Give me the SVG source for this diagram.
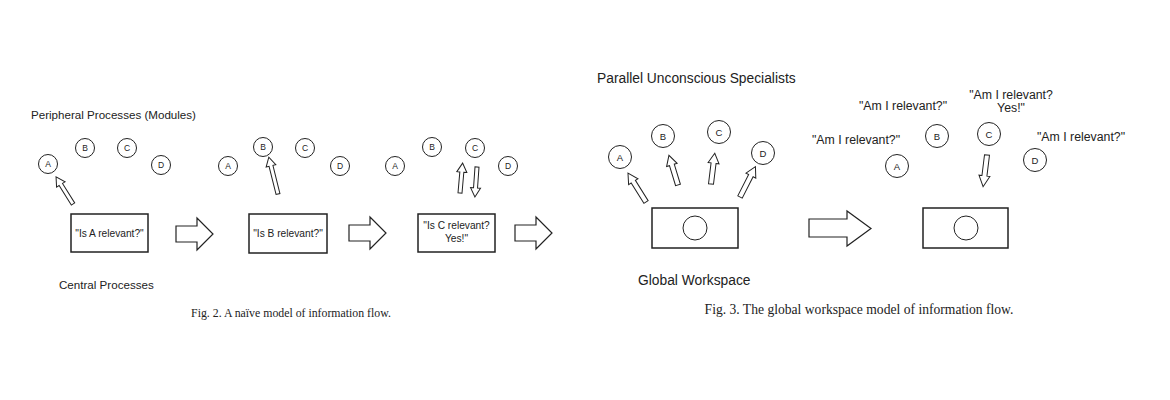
<svg xmlns="http://www.w3.org/2000/svg" width="1170" height="400" viewBox="0 0 1170 400">
<style>
.bg{fill:#fff}
.c{fill:#fff;stroke:#222;stroke-width:1}
.cl{font-family:"Liberation Sans",Arial,sans-serif;font-size:8.5px;fill:#222;text-anchor:middle}
.cr{font-family:"Liberation Sans",Arial,sans-serif;font-size:9.5px;fill:#222;text-anchor:middle}
.box{fill:#fff;stroke:#222;stroke-width:1.5}
.bt{font-family:"Liberation Sans",Arial,sans-serif;font-size:10.2px;fill:#222;text-anchor:middle}
.lbl{font-family:"Liberation Sans",Arial,sans-serif;font-size:11.6px;fill:#222}
.lbr{font-family:"Liberation Sans",Arial,sans-serif;font-size:13.8px;fill:#222}
.q{font-family:"Liberation Sans",Arial,sans-serif;font-size:12.3px;fill:#222;text-anchor:middle}
.cap{font-family:"Liberation Serif","Times New Roman",serif;fill:#222;text-anchor:middle}
.ar{fill:#fff;stroke:#222;stroke-width:1}
.big{fill:#fff;stroke:#222;stroke-width:1.2}
</style>
<rect class="bg" x="0" y="0" width="1170" height="400"/>

<!-- Fig. 2 -->
<text class="lbl" x="31" y="119">Peripheral Processes (Modules)</text>
<text class="lbl" x="59" y="289">Central Processes</text>
<text class="cap" x="291" y="317" font-size="11.8">Fig. 2. A naïve model of information flow.</text>

<g id="p1-A"><circle class="c" cx="48" cy="164" r="9.5"/><text class="cl" x="48" y="167">A</text></g>
<g id="p1-B"><circle class="c" cx="85" cy="148" r="9.5"/><text class="cl" x="85" y="151">B</text></g>
<g id="p1-C"><circle class="c" cx="127" cy="148" r="9.5"/><text class="cl" x="127" y="151">C</text></g>
<g id="p1-D"><circle class="c" cx="161" cy="165" r="9.5"/><text class="cl" x="161" y="168">D</text></g>
<g id="p1-box"><rect class="box" x="71" y="214" width="77" height="38"/><text class="bt" x="109.5" y="237">"Is A relevant?"</text></g>

<g id="p2-A"><circle class="c" cx="228" cy="166" r="9.5"/><text class="cl" x="228" y="169">A</text></g>
<g id="p2-B"><circle class="c" cx="263" cy="147" r="9.5"/><text class="cl" x="263" y="150">B</text></g>
<g id="p2-C"><circle class="c" cx="305" cy="148" r="9.5"/><text class="cl" x="305" y="151">C</text></g>
<g id="p2-D"><circle class="c" cx="340" cy="166" r="9.5"/><text class="cl" x="340" y="169">D</text></g>
<g id="p2-box"><rect class="box" x="249" y="214" width="78" height="39"/><text class="bt" x="288" y="237">"Is B relevant?"</text></g>

<g id="p3-A"><circle class="c" cx="395" cy="166" r="9.5"/><text class="cl" x="395" y="169">A</text></g>
<g id="p3-B"><circle class="c" cx="432" cy="147" r="9.5"/><text class="cl" x="432" y="150">B</text></g>
<g id="p3-C"><circle class="c" cx="475" cy="148" r="9.5"/><text class="cl" x="475" y="151">C</text></g>
<g id="p3-D"><circle class="c" cx="508" cy="166" r="9.5"/><text class="cl" x="508" y="169">D</text></g>
<g id="p3-box"><rect class="box" x="418" y="214" width="77" height="38"/><text class="bt" x="456.5" y="229">"Is C relevant?</text><text class="bt" x="456.5" y="242">Yes!"</text></g>

<!-- Fig. 3 -->
<text class="lbr" x="597" y="83">Parallel Unconscious Specialists</text>
<text class="lbr" x="638" y="285">Global Workspace</text>
<text class="cap" x="859" y="314" font-size="13.6">Fig. 3. The global workspace model of information flow.</text>

<g id="f3-A"><circle class="c" cx="620" cy="157" r="11.5"/><text class="cr" x="620" y="160.5">A</text></g>
<g id="f3-B"><circle class="c" cx="663" cy="136" r="11.5"/><text class="cr" x="663" y="139.5">B</text></g>
<g id="f3-C"><circle class="c" cx="719" cy="132" r="11.5"/><text class="cr" x="719" y="135.5">C</text></g>
<g id="f3-D"><circle class="c" cx="763" cy="153" r="11.5"/><text class="cr" x="763" y="156.5">D</text></g>
<g id="f3-ws"><rect class="box" x="652" y="208" width="86" height="40"/><circle class="c" cx="695" cy="228" r="12"/></g>

<g id="f3b-A"><text class="q" x="856" y="144">"Am I relevant?"</text><circle class="c" cx="897" cy="166" r="11.5"/><text class="cr" x="897" y="169.5">A</text></g>
<g id="f3b-B"><text class="q" x="903" y="110">"Am I relevant?"</text><circle class="c" cx="937" cy="136" r="11.5"/><text class="cr" x="937" y="139.5">B</text></g>
<g id="f3b-C"><text class="q" x="1011" y="99">"Am I relevant?</text><text class="q" x="1011" y="112">Yes!"</text><circle class="c" cx="989" cy="134" r="11.5"/><text class="cr" x="989" y="137.5">C</text></g>
<g id="f3b-D"><text class="q" x="1081" y="141">"Am I relevant?"</text><circle class="c" cx="1035" cy="160" r="11.5"/><text class="cr" x="1035" y="163.5">D</text></g>
<g id="f3b-ws"><rect class="box" x="923" y="208" width="85" height="40"/><circle class="c" cx="966" cy="228" r="12"/></g>

<g id="connectors">
<polygon class="ar" transform="translate(73,204) rotate(-122)" points="0,-2 23,-2 23,-5 32,0 23,5 23,2 0,2"/>
<polygon class="ar" transform="translate(278,194) rotate(-104)" points="0,-2 29,-2 29,-5 38,0 29,5 29,2 0,2"/>
<polygon class="ar" transform="translate(460,193) rotate(-85)" points="0,-2 21,-2 21,-5 30,0 21,5 21,2 0,2"/>
<polygon class="ar" transform="translate(477,167) rotate(94)" points="0,-2 21,-2 21,-5 30,0 21,5 21,2 0,2"/>
<polygon class="big" points="176,226 197,226 197,218 213,234 197,250 197,242 176,242"/>
<polygon class="big" points="349,225 370,225 370,217 386,233 370,249 370,241 349,241"/>
<polygon class="big" points="515,225 536,225 536,217 552,233 536,249 536,241 515,241"/>

<polygon class="ar" transform="translate(646,202) rotate(-122)" points="0,-2.5 24,-2.5 24,-5.5 34,0 24,5.5 24,2.5 0,2.5"/>
<polygon class="ar" transform="translate(678,185) rotate(-107)" points="0,-2.5 21,-2.5 21,-5.5 31,0 21,5.5 21,2.5 0,2.5"/>
<polygon class="ar" transform="translate(711,184) rotate(-83)" points="0,-2.5 21,-2.5 21,-5.5 31,0 21,5.5 21,2.5 0,2.5"/>
<polygon class="ar" transform="translate(740,197) rotate(-63)" points="0,-2.5 24,-2.5 24,-5.5 34,0 24,5.5 24,2.5 0,2.5"/>
<polygon class="big" points="809,219 847,219 847,211 871,228.5 847,246 847,237 809,237"/>
<polygon class="ar" transform="translate(987,155) rotate(97)" points="0,-2.5 21,-2.5 21,-5.5 32,0 21,5.5 21,2.5 0,2.5"/>
</g>
</svg>
